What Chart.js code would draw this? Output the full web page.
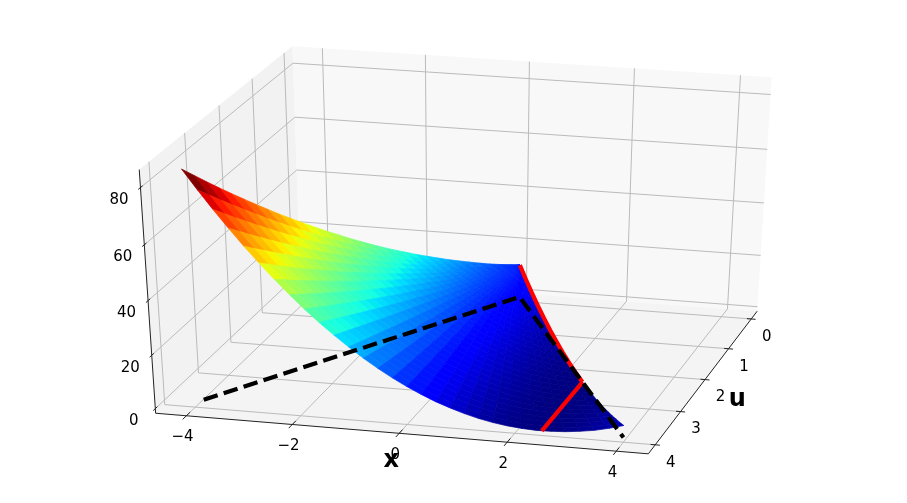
<!DOCTYPE html>
<html>
<head>
<meta charset="utf-8">
<script src="https://cdn.jsdelivr.net/npm/chart.js@4"></script>
<style>html,body{margin:0;padding:0;background:#fff}canvas{display:block}</style>
</head>
<body>
<canvas id="c" width="907" height="503"></canvas>
<script>
// ---- values ----
const xTicks = [-4, -2, 0, 2, 4];
const uTicks = [0, 1, 2, 3, 4];
const zTicks = [0, 20, 40, 60, 80];
const xTickLabels = ['\u22124', '\u22122', '0', '2', '4'];
const uTickLabels = ['0', '1', '2', '3', '4'];
const zTickLabels = ['0', '20', '40', '60', '80'];
const xLim = [-4.585, 4.585];
const uLim = [4.265, -0.268];
const zLim = [-1.76, 86.2];

const rayFractions = [-1,-0.9333,-0.8667,-0.8,-0.7333,-0.6667,-0.6,-0.5333,-0.4667,-0.4,-0.3333,-0.2667,-0.2,-0.1333,-0.0667,0,0.0667,0.1333,0.2,0.2667,0.3333,0.4,0.4667,0.5333,0.6,0.6667,0.7333,0.8,0.8667,0.9333,1];
const uRings = [0,0.1333,0.2667,0.4,0.5333,0.6667,0.8,0.9333,1.0667,1.2,1.3333,1.4667,1.6,1.7333,1.8667,2,2.1333,2.2667,2.4,2.5333,2.6667,2.8,2.9333,3.0667,3.2,3.3333,3.4667,3.6,3.7333,3.8667,4];
const surfaceZ = [
[12.5,12.5,12.5,12.5,12.5,12.5,12.5,12.5,12.5,12.5,12.5,12.5,12.5,12.5,12.5,12.5,12.5,12.5,12.5,12.5,12.5,12.5,12.5,12.5,12.5,12.5,12.5,12.5,12.5,12.5,12.5],
[13.9,13.8,13.7,13.6,13.5,13.4,13.3,13.2,13.1,13.0,12.9,12.9,12.8,12.7,12.6,12.5,12.4,12.3,12.2,12.1,12.1,12.0,11.9,11.8,11.7,11.6,11.5,11.5,11.4,11.3,11.2],
[15.3,15.1,14.9,14.7,14.5,14.3,14.2,14.0,13.8,13.6,13.4,13.2,13.0,12.9,12.7,12.5,12.3,12.1,12.0,11.8,11.6,11.5,11.3,11.1,11.0,10.8,10.6,10.5,10.3,10.1,10.0],
[16.8,16.5,16.2,15.9,15.6,15.3,15.0,14.7,14.4,14.2,13.9,13.6,13.3,13.0,12.8,12.5,12.2,12.0,11.7,11.5,11.2,11.0,10.7,10.5,10.2,10.0,9.7,9.5,9.3,9.1,8.8],
[18.4,18.0,17.6,17.1,16.7,16.3,15.9,15.5,15.1,14.7,14.3,14.0,13.6,13.2,12.9,12.5,12.1,11.8,11.5,11.1,10.8,10.5,10.1,9.8,9.5,9.2,8.9,8.6,8.3,8.0,7.7],
[20.1,19.5,19.0,18.4,17.9,17.3,16.8,16.3,15.8,15.3,14.8,14.3,13.9,13.4,12.9,12.5,12.1,11.6,11.2,10.8,10.4,10.0,9.6,9.2,8.8,8.5,8.1,7.7,7.4,7.0,6.7],
[21.8,21.1,20.4,19.7,19.1,18.4,17.8,17.1,16.5,15.9,15.3,14.7,14.2,13.6,13.0,12.5,12.0,11.5,11.0,10.5,10.0,9.5,9.1,8.6,8.2,7.7,7.3,6.9,6.5,6.2,5.8],
[23.6,22.7,21.9,21.1,20.3,19.5,18.7,18.0,17.2,16.5,15.8,15.1,14.4,13.8,13.1,12.5,11.9,11.3,10.7,10.1,9.6,9.1,8.5,8.0,7.5,7.0,6.6,6.2,5.7,5.3,4.9],
[25.5,24.4,23.5,22.5,21.5,20.6,19.7,18.8,18.0,17.1,16.3,15.5,14.7,14.0,13.2,12.5,11.8,11.1,10.5,9.8,9.2,8.6,8.0,7.5,6.9,6.4,5.9,5.4,5.0,4.5,4.1],
[27.4,26.2,25.1,23.9,22.9,21.8,20.7,19.7,18.7,17.8,16.8,15.9,15.0,14.2,13.3,12.5,11.7,11.0,10.2,9.5,8.8,8.2,7.5,6.9,6.3,5.8,5.3,4.7,4.3,3.8,3.4],
[29.4,28.0,26.7,25.5,24.2,23.0,21.8,20.6,19.5,18.4,17.3,16.3,15.3,14.3,13.4,12.5,11.6,10.8,10.0,9.2,8.5,7.7,7.0,6.4,5.8,5.2,4.6,4.1,3.6,3.2,2.7],
[31.5,29.9,28.4,27.0,25.6,24.2,22.9,21.5,20.3,19.1,17.9,16.7,15.6,14.5,13.5,12.5,11.5,10.6,9.7,8.9,8.1,7.3,6.6,5.9,5.3,4.6,4.1,3.5,3.0,2.6,2.1],
[33.6,31.9,30.2,28.6,27.0,25.5,23.9,22.5,21.1,19.7,18.4,17.1,15.9,14.7,13.6,12.5,11.5,10.5,9.5,8.6,7.7,6.9,6.2,5.4,4.7,4.1,3.5,3.0,2.5,2.0,1.6],
[35.8,33.9,32.0,30.2,28.4,26.7,25.1,23.5,21.9,20.4,19.0,17.6,16.2,14.9,13.7,12.5,11.4,10.3,9.3,8.3,7.4,6.5,5.7,5.0,4.3,3.6,3.0,2.5,2.0,1.6,1.2],
[38.1,36.0,33.9,31.9,29.9,28.0,26.2,24.4,22.7,21.1,19.5,18.0,16.5,15.1,13.8,12.5,11.3,10.1,9.1,8.0,7.0,6.2,5.3,4.5,3.8,3.2,2.6,2.0,1.6,1.2,0.8],
[40.5,38.1,35.8,33.6,31.5,29.4,27.4,25.5,23.6,21.8,20.1,18.4,16.8,15.3,13.9,12.5,11.2,10.0,8.8,7.7,6.7,5.8,4.9,4.1,3.4,2.7,2.1,1.6,1.2,0.8,0.5],
[42.9,40.3,37.8,35.4,33.0,30.8,28.6,26.5,24.4,22.5,20.6,18.8,17.1,15.5,14.0,12.5,11.1,9.8,8.6,7.5,6.4,5.4,4.5,3.7,3.0,2.3,1.8,1.3,0.9,0.5,0.3],
[45.5,42.6,39.9,37.2,34.7,32.2,29.8,27.5,25.3,23.2,21.2,19.3,17.4,15.7,14.1,12.5,11.0,9.7,8.4,7.2,6.1,5.1,4.2,3.3,2.6,2.0,1.4,1.0,0.6,0.3,0.1],
[48.0,44.9,42.0,39.1,36.3,33.6,31.1,28.6,26.2,23.9,21.8,19.7,17.8,15.9,14.2,12.5,11.0,9.5,8.2,6.9,5.8,4.7,3.8,3.0,2.2,1.6,1.1,0.7,0.3,0.1,0],
[50.7,47.3,44.1,41.0,38.0,35.1,32.3,29.7,27.1,24.7,22.4,20.2,18.1,16.1,14.3,12.5,10.9,9.4,7.9,6.7,5.5,4.4,3.5,2.6,1.9,1.3,0.8,0.4,0.2,0,0],
[53.4,49.8,46.3,42.9,39.7,36.6,33.6,30.8,28.0,25.5,23.0,20.6,18.4,16.3,14.3,12.5,10.8,9.2,7.7,6.4,5.2,4.1,3.2,2.3,1.6,1.0,0.6,0.3,0.1,0,0.1],
[56.2,52.3,48.6,44.9,41.5,38.1,34.9,31.9,29.0,26.2,23.6,21.1,18.7,16.5,14.4,12.5,10.7,9.1,7.5,6.2,4.9,3.8,2.8,2.0,1.3,0.8,0.4,0.1,0,0,0.2],
[59.0,54.9,50.9,47.0,43.3,39.7,36.3,33.0,29.9,27.0,24.2,21.5,19.1,16.7,14.5,12.5,10.6,8.9,7.3,5.9,4.6,3.5,2.6,1.8,1.1,0.6,0.2,0,0,0.1,0.4],
[62.0,57.5,53.2,49.1,45.1,41.3,37.7,34.2,30.9,27.8,24.8,22.0,19.4,16.9,14.6,12.5,10.5,8.7,7.1,5.7,4.4,3.2,2.3,1.5,0.9,0.4,0.1,0,0.1,0.3,0.6],
[65.0,60.2,55.6,51.2,47.0,42.9,39.1,35.4,31.9,28.6,25.5,22.5,19.7,17.1,14.7,12.5,10.5,8.6,6.9,5.4,4.1,3.0,2.0,1.3,0.7,0.3,0,0,0.2,0.5,1.0],
[68.1,63.0,58.1,53.4,48.9,44.6,40.5,36.6,32.9,29.4,26.1,23.0,20.1,17.3,14.8,12.5,10.4,8.5,6.7,5.2,3.9,2.7,1.8,1.0,0.5,0.2,0,0.1,0.3,0.8,1.4],
[71.2,65.8,60.6,55.6,50.9,46.3,42.0,37.8,33.9,30.2,26.7,23.5,20.4,17.6,14.9,12.5,10.3,8.3,6.5,5.0,3.6,2.5,1.6,0.9,0.4,0.1,0,0.2,0.5,1.1,1.9],
[74.4,68.7,63.2,57.9,52.8,48.0,43.4,39.1,34.9,31.1,27.4,23.9,20.7,17.8,15.0,12.5,10.2,8.2,6.3,4.7,3.4,2.2,1.3,0.7,0.2,0,0,0.3,0.8,1.5,2.4],
[77.7,71.6,65.8,60.2,54.9,49.8,44.9,40.3,36.0,31.9,28.0,24.4,21.1,18.0,15.1,12.5,10.1,8.0,6.2,4.5,3.2,2.0,1.2,0.5,0.1,0,0.1,0.5,1.1,1.9,3.1],
[81.1,74.6,68.5,62.6,56.9,51.6,46.5,41.6,37.1,32.8,28.7,24.9,21.4,18.2,15.2,12.5,10.1,7.9,6.0,4.3,2.9,1.8,1.0,0.4,0.1,0,0.2,0.7,1.5,2.5,3.7],
[84.5,77.7,71.2,65.0,59.0,53.4,48.0,42.9,38.1,33.6,29.4,25.5,21.8,18.4,15.3,12.5,10.0,7.7,5.8,4.1,2.7,1.6,0.8,0.3,0,0.1,0.4,1.0,1.8,3.0,4.5]
];
const dashX = [-3.9, 0, 4];
const dashU = [3.9, 0, 4];
const dashZ = [0, 0, 0];
const redCurveX = [0, 0.25, 0.5, 0.75, 1, 1.25, 1.5, 1.75, 2, 2.25, 2.5];
const redCurveU = [0, 0.25, 0.5, 0.75, 1, 1.25, 1.5, 1.75, 2, 2.25, 2.5];
const redCurveZ = [12.5, 10.1, 8, 6.1, 4.5, 3.1, 2, 1.1, 0.5, 0.1, 0];
const redLineX = [2.5, 2.5];
const redLineU = [2.5, 4];
const redLineZ = [0, 0];

// ---- camera of the 3D box ----
const viewElev = 30, viewAzim = -75, viewDist = 10;
const scaleX = 5030, scaleY = 2755, centerX = 465.4, centerY = 244.3;
const rad = Math.PI / 180;
const ce = Math.cos(viewElev * rad), se = Math.sin(viewElev * rad);
const ca = Math.cos(viewAzim * rad), sa = Math.sin(viewAzim * rad);
const nv = [ca * ce, sa * ce, se];
const rv = [-sa, ca, 0];
const uv = [-se * ca, -se * sa, ce];
function project(x, u, z) {
  const q = [
    (x - xLim[0]) / (xLim[1] - xLim[0]) - 0.5,
    (u - uLim[0]) / (uLim[1] - uLim[0]) - 0.5,
    (z - zLim[0]) / (zLim[1] - zLim[0]) - 0.5
  ];
  const dot = (a) => a[0] * q[0] + a[1] * q[1] + a[2] * q[2];
  const d = viewDist - dot(nv);
  return { x: centerX + scaleX * dot(rv) / d, y: centerY - scaleY * dot(uv) / d };
}

// jet colormap
function ramp(t, pts) {
  for (let i = 1; i < pts.length; i++) {
    if (t <= pts[i][0]) {
      const a = pts[i - 1], b = pts[i];
      return a[1] + (b[1] - a[1]) * (t - a[0]) / (b[0] - a[0]);
    }
  }
  return pts[pts.length - 1][1];
}
function jet(t) {
  t = Math.max(0, Math.min(1, t));
  const r = ramp(t, [[0,0],[0.35,0],[0.66,1],[0.89,1],[1,0.5]]);
  const g = ramp(t, [[0,0],[0.125,0],[0.375,1],[0.64,1],[0.91,0],[1,0]]);
  const b = ramp(t, [[0,0.5],[0.11,1],[0.34,1],[0.65,0],[1,0]]);
  return `rgb(${Math.round(r*255)},${Math.round(g*255)},${Math.round(b*255)})`;
}

// ---- datasets (listed back to front, reversed at the end because Chart.js paints the first one last) ----
const datasets = [];
function shape(points, color) {
  datasets.push({ data: points, showLine: true, fill: 'shape', backgroundColor: color,
    borderColor: color, borderWidth: 0, pointRadius: 0, tension: 0, clip: false });
}
function line(points, color, width, extra) {
  datasets.push(Object.assign({ data: points, showLine: true, fill: false, borderColor: color,
    borderWidth: width, pointRadius: 0, tension: 0, clip: false }, extra || {}));
}
const [x0, x1] = xLim, [uf, ub] = uLim, [z0, z1] = zLim;

// panes
shape([project(x0,uf,z0), project(x0,ub,z0), project(x0,ub,z1), project(x0,uf,z1)], '#f2f2f2');
shape([project(x0,ub,z0), project(x1,ub,z0), project(x1,ub,z1), project(x0,ub,z1)], '#f8f8f8');
shape([project(x0,uf,z0), project(x1,uf,z0), project(x1,ub,z0), project(x0,ub,z0)], '#f4f4f4');

// grid
const gridColor = '#bbbbbb';
xTicks.forEach(x => line([project(x,uf,z0), project(x,ub,z0), project(x,ub,z1)], gridColor, 1));
uTicks.forEach(u => line([project(x0,u,z1), project(x0,u,z0), project(x1,u,z0)], gridColor, 1));
zTicks.forEach(z => line([project(x0,uf,z), project(x0,ub,z), project(x1,ub,z)], gridColor, 1));

// axes and ticks
const axisColor = '#222';
line([project(x0,uf,z1), project(x0,uf,z0), project(x1,uf,z0), project(x1,ub,z0)], axisColor, 1);
xTicks.forEach(x => line([project(x,uf+0.11,z0), project(x,uf-0.11,z0)], axisColor, 1));
uTicks.forEach(u => line([project(x1+0.085,u,z0), project(x1-0.085,u,z0)], axisColor, 1));
zTicks.forEach(z => line([project(x0,uf+0.06,z), project(x0,uf-0.06,z)], axisColor, 1));

// surface facets
const facets = [];
for (let j = 0; j < uRings.length - 1; j++) {
  for (let i = 0; i < rayFractions.length - 1; i++) {
    const corners = [[i,j],[i+1,j],[i+1,j+1],[i,j+1]];
    const avg = corners.reduce((s,c) => s + surfaceZ[c[1]][c[0]], 0) / 4;
    const pts = corners.map(c => project(rayFractions[c[0]] * uRings[c[1]], uRings[c[1]], surfaceZ[c[1]][c[0]]));
    facets.push({ pts, avg });
  }
}
const avgs = facets.map(f => f.avg);
const vMin = Math.min(...avgs), vMax = Math.max(...avgs);
facets.forEach(f => {
  const col = jet((f.avg - vMin) / (vMax - vMin));
  shape(f.pts, col);
  const d = datasets[datasets.length - 1];
  d.data = f.pts.concat([f.pts[0]]);
  d.borderWidth = 0.7;
  d.borderJoinStyle = 'round';
});

// lines over the surface
line(redCurveX.map((x,i) => project(x, redCurveU[i], redCurveZ[i])), '#ff0000', 4.2, {borderCapStyle:'butt'});
line(redLineX.map((x,i) => project(x, redLineU[i], redLineZ[i])), '#ff0000', 4.2, {borderCapStyle:'butt'});
line(dashX.map((x,i) => project(x, dashU[i], dashZ[i])), '#000000', 4.2, {borderDash:[14.6,6.34], borderCapStyle:'butt', borderJoinStyle:'miter'});
datasets.reverse();

const textPlugin = {
  id: 'boxText',
  afterDraw(chart) {
    const ctx = chart.ctx;
    const sx = chart.scales.x, sy = chart.scales.y;
    const put = (txt, p, dx, dy, font) => {
      ctx.font = font;
      ctx.fillText(txt, sx.getPixelForValue(p.x) + dx, sy.getPixelForValue(p.y) + dy);
    };
    ctx.save();
    ctx.fillStyle = '#000';
    ctx.textAlign = 'center';
    ctx.textBaseline = 'middle';
    const tickFont = '15px "DejaVu Sans"';
    xTicks.forEach((x,i) => put(xTickLabels[i], project(x,uf,z0), -3.8, 21.5, tickFont));
    uTicks.forEach((u,i) => put(uTickLabels[i], project(x1,u,z0), 15.5, 18, tickFont));
    zTicks.forEach((z,i) => put(zTickLabels[i], project(x0,uf,z), -21.5, 12.5, tickFont));
    const labelFont = 'bold 24px "DejaVu Sans"';
    put('x', project(0,uf,z0), -8, 27, labelFont);
    put('u', project(x1,2.15,z0), 36, 15, labelFont);
    ctx.restore();
  }
};

new Chart(document.getElementById('c'), {
  type: 'scatter',
  data: { datasets },
  plugins: [textPlugin],
  options: {
    responsive: false,
    animation: false,
    events: [],
    layout: { padding: 0 },
    plugins: { legend: { display: false }, tooltip: { enabled: false }, filler: { drawTime: 'beforeDatasetDraw' } },
    scales: {
      x: { type: 'linear', min: 0, max: 907, display: false },
      y: { type: 'linear', min: 0, max: 503, reverse: true, display: false }
    }
  }
});
</script>
</body>
</html>
